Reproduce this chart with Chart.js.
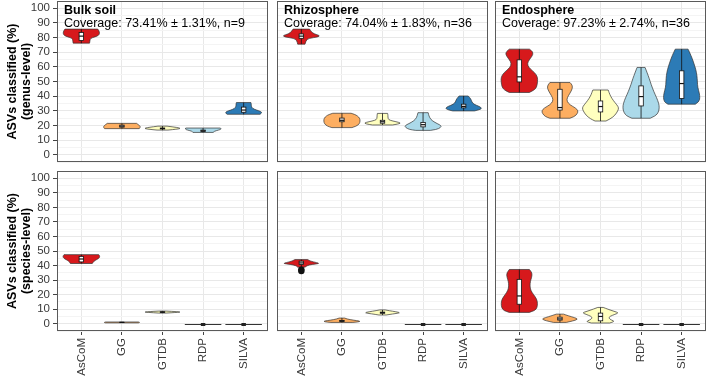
<!DOCTYPE html>
<html>
<head>
<meta charset="utf-8">
<script src="https://cdn.jsdelivr.net/npm/chart.js@4.4.1/dist/chart.umd.min.js"></script>
<style>
  html, body { margin: 0; padding: 0; background: #fff; }
  #wrap { position: relative; width: 708px; height: 380px; overflow: hidden; }
  #wrap canvas { position: absolute; }
</style>
</head>
<body>
<div id="wrap"></div>
<script>
// facets, categories, labels
const categories = ['AsCoM', 'GG', 'GTDB', 'RDP', 'SILVA'];
const panelNames = ['Bulk soil', 'Rhizosphere', 'Endosphere'];
const coverageText = ['Coverage: 73.41% \u00b1 1.31%, n=9', 'Coverage: 74.04% \u00b1 1.83%, n=36', 'Coverage: 97.23% \u00b1 2.74%, n=36'];
const rowTitles = [['ASVs classified (%)', '(genus-level)'], ['ASVs classified (%)', '(species-level)']];
const yTickLabels = [0, 10, 20, 30, 40, 50, 60, 70, 80, 90, 100];
const fills = ['#d7191c', '#fdae61', '#ffffbf', '#abd9e9', '#2c7bb6'];

// boxplot stats: [lower whisker, q1, median, q3, upper whisker]
// violin outlines: [value, relative half-width]
const genusBulkBox = [
  [76.2, 78, 81, 83.5, 85.8],
  [17.8, 18.8, 19.5, 20.2, 21.4],
  [16.8, 17.6, 17.9, 18.2, 19.5],
  [15.2, 15.8, 16.3, 16.8, 18.2],
  [27.6, 29, 30.5, 32.5, 35.6]
];
const genusBulkShape = [
  [[76.2, 0.45], [78, 0.47], [79.5, 0.5], [80.5, 0.75], [81.5, 0.95], [83, 1], [84.5, 0.97], [85.8, 0.9]],
  [[17.8, 0.95], [18.5, 1], [19.5, 1], [20.5, 0.9], [21.4, 0.8]],
  [[16.8, 0.3], [17.5, 0.85], [18, 1], [18.6, 0.8], [19.5, 0.25]],
  [[15.2, 0.55], [16, 0.6], [16.8, 0.85], [17.5, 1], [18.2, 0.95]],
  [[27.6, 0.9], [28.5, 1], [29.5, 0.95], [30.5, 0.7], [31.5, 0.5], [33, 0.42], [34.5, 0.42], [35.6, 0.4]]
];
const genusRhizoBox = [
  [75.5, 79.5, 81, 82.5, 85.8],
  [18.5, 22.5, 23.5, 25, 28.3],
  [20.3, 21.5, 22.5, 23.5, 28.2],
  [16.6, 19, 20.5, 22, 28.7],
  [29.9, 32, 33, 34.5, 40.1]
];
const genusRhizoShape = [
  [[75.5, 0.2], [78, 0.25], [79.5, 0.4], [80.5, 0.95], [81.5, 1], [82.5, 0.7], [84, 0.55], [85.8, 0.45]],
  [[18.5, 0.55], [19.5, 0.8], [21, 0.95], [23, 1], [25, 0.97], [26.5, 0.85], [27.5, 0.7], [28.3, 0.5]],
  [[20.3, 0.55], [21, 0.9], [21.7, 1], [22.5, 0.75], [23.5, 0.4], [24.5, 0.3], [27, 0.3], [28.2, 0.28]],
  [[16.6, 0.4], [17.2, 0.75], [18.5, 0.95], [19.5, 1], [20.5, 0.9], [22, 0.65], [24, 0.42], [26.5, 0.32], [28.7, 0.28]],
  [[29.9, 0.6], [30.8, 0.9], [31.8, 1], [33, 0.85], [34.5, 0.55], [36, 0.45], [38, 0.4], [40.1, 0.25]]
];
const genusEndoBox = [
  [42.5, 49.7, 53.2, 64.8, 72.1],
  [24.9, 30.5, 32.2, 44.7, 49.3],
  [23, 29.2, 32.9, 36.7, 44.2],
  [24.9, 33.3, 39.7, 47, 59.6],
  [34.5, 38.4, 48.6, 57.3, 72.1]
];
const genusEndoShape = [
  [[42.5, 0.55], [44, 0.8], [46, 0.95], [50, 1], [53, 1], [56, 0.85], [58.5, 0.6], [61, 0.45], [63.5, 0.47], [66, 0.62], [68.5, 0.75], [70.5, 0.72], [72.1, 0.55]],
  [[24.9, 0.55], [26, 0.8], [28, 0.95], [30, 1], [32, 0.85], [34, 0.55], [36.5, 0.38], [39, 0.4], [42, 0.55], [45, 0.68], [47.5, 0.68], [49.3, 0.55]],
  [[23, 0.3], [24.5, 0.55], [27, 0.8], [30, 0.95], [32, 1], [34, 0.9], [37, 0.7], [40, 0.55], [42.5, 0.47], [44.2, 0.42]],
  [[24.9, 0.5], [26.5, 0.8], [29, 0.95], [32, 1], [35, 0.97], [39, 0.85], [43, 0.7], [48, 0.55], [52, 0.45], [56, 0.33], [59.6, 0.22]],
  [[34.5, 0.75], [36, 0.95], [39, 1], [42, 0.97], [46, 0.88], [50, 0.86], [54, 0.84], [58, 0.78], [62, 0.68], [66, 0.57], [69.5, 0.45], [72.1, 0.35]]
];
const speciesBulkBox = [
  [41.4, 42.5, 44.5, 46.3, 47.5],
  [0.6, 0.8, 0.9, 1, 1.2],
  [7.3, 7.8, 8, 8.2, 8.7],
  [0, 0, 0, 0, 0],
  [0, 0, 0, 0, 0]
];
const speciesBulkShape = [
  [[41.4, 0.6], [42.5, 0.65], [43.5, 0.75], [44.5, 0.9], [45.5, 1], [46.8, 1], [47.5, 0.95]],
  [[0.6, 0.9], [0.9, 1], [1.2, 0.9]],
  [[7.3, 0.2], [7.8, 0.8], [8, 1], [8.3, 0.8], [8.7, 0.2]],
  [[0, 1]],
  [[0, 1]]
];
const speciesRhizoBox = [
  [38.9, 40.8, 41.8, 43, 44.1],
  [0.9, 1.5, 1.9, 2.3, 3.9],
  [6, 7.2, 7.6, 8, 9.5],
  [0, 0, 0, 0, 0],
  [0, 0, 0, 0, 0]
];
const speciesRhizoShape = [
  [[38.9, 0.2], [40, 0.3], [40.8, 0.6], [41.4, 1], [42, 0.85], [43, 0.5], [44.1, 0.35]],
  [[0.9, 0.6], [1.3, 0.95], [1.8, 1], [2.5, 0.6], [3.2, 0.3], [3.9, 0.15]],
  [[6, 0.2], [6.8, 0.6], [7.5, 1], [8.2, 0.75], [9, 0.35], [9.5, 0.15]],
  [[0, 1]],
  [[0, 1]]
];
const speciesRhizoOutliers = [[36.2, 37.2], [], [], [], []];
const speciesEndoBox = [
  [7.8, 13.4, 19.1, 30.5, 37.3],
  [0.9, 2.5, 3.3, 4.5, 6.6],
  [0.5, 2, 5, 7.3, 11.2],
  [0, 0, 0, 0, 0],
  [0, 0, 0, 0, 0]
];
const speciesEndoShape = [
  [[7.8, 0.55], [9, 0.85], [11, 0.97], [14, 1], [17, 0.95], [20, 0.78], [23, 0.62], [26, 0.58], [29, 0.6], [32, 0.68], [35, 0.7], [37.3, 0.55]],
  [[0.9, 0.35], [2, 0.75], [3.2, 1], [4.2, 0.8], [5.5, 0.45], [6.6, 0.2]],
  [[0.5, 0.5], [1.5, 0.8], [2.5, 0.6], [3.8, 0.45], [5, 0.5], [6.5, 0.8], [7.5, 1], [8.5, 0.75], [10, 0.4], [11.2, 0.15]],
  [[0, 1]],
  [[0, 1]]
];

const FONT = '"Liberation Sans", Arial, sans-serif';
Chart.defaults.font.family = FONT;

// smooth one side of a violin through midpoints
function smoothSide(ctx, pts) {
  for (let k = 1; k < pts.length - 1; k++) {
    const mx = (pts[k][0] + pts[k + 1][0]) / 2;
    const my = (pts[k][1] + pts[k + 1][1]) / 2;
    ctx.quadraticCurveTo(pts[k][0], pts[k][1], mx, my);
  }
  const last = pts[pts.length - 1];
  ctx.lineTo(last[0], last[1]);
}

const violinPlugin = {
  id: 'violins',
  afterDatasetsDraw(chart) {
    const { ctx, chartArea: a, scales: { x, y } } = chart;
    const ds = chart.data.datasets[0];
    const unit = x.getPixelForValue(1) - x.getPixelForValue(0);
    const half = unit * 0.45;
    const bw = unit * 0.055;
    ctx.save();
    ctx.beginPath();
    ctx.rect(a.left, a.top, a.right - a.left, a.bottom - a.top);
    ctx.clip();
    ds.shapes.forEach((shape, i) => {
      const cx = x.getPixelForValue(i + 1);
      const b = ds.boxes[i];
      if (b[0] === b[4]) {
        // all values equal: flat violin
        const py = Math.round(y.getPixelForValue(b[0])) + 0.5;
        ctx.strokeStyle = '#333';
        ctx.lineWidth = 1;
        ctx.beginPath();
        ctx.moveTo(cx - half, py);
        ctx.lineTo(cx + half, py);
        ctx.stroke();
        ctx.fillStyle = '#222';
        ctx.fillRect(cx - bw, py - 1.5, bw * 2, 3);
        return;
      }
      const right = shape.map(([v, w]) => [cx + w * half, y.getPixelForValue(v)]);
      const left = shape.slice().reverse().map(([v, w]) => [cx - w * half, y.getPixelForValue(v)]);
      ctx.beginPath();
      ctx.moveTo(right[0][0], right[0][1]);
      smoothSide(ctx, right);
      ctx.lineTo(left[0][0], left[0][1]);
      smoothSide(ctx, left);
      ctx.closePath();
      ctx.fillStyle = ds.fills[i];
      ctx.fill();
      ctx.strokeStyle = '#333';
      ctx.lineWidth = 0.7;
      ctx.stroke();

      // boxplot
      const pMin = y.getPixelForValue(b[0]);
      const pQ1 = y.getPixelForValue(b[1]);
      const pMed = y.getPixelForValue(b[2]);
      const pQ3 = y.getPixelForValue(b[3]);
      const pMax = y.getPixelForValue(b[4]);
      ctx.strokeStyle = '#111';
      ctx.lineWidth = 0.8;
      ctx.beginPath();
      ctx.moveTo(cx, pMin); ctx.lineTo(cx, pQ1);
      ctx.moveTo(cx, pQ3); ctx.lineTo(cx, pMax);
      ctx.stroke();
      ctx.fillStyle = '#fff';
      ctx.fillRect(cx - bw, pQ3, bw * 2, pQ1 - pQ3);
      ctx.strokeRect(cx - bw, pQ3, bw * 2, pQ1 - pQ3);
      ctx.lineWidth = 1.2;
      ctx.beginPath();
      ctx.moveTo(cx - bw, pMed); ctx.lineTo(cx + bw, pMed);
      ctx.stroke();

      (ds.outliers[i] || []).forEach(v => {
        ctx.fillStyle = '#111';
        ctx.beginPath();
        ctx.arc(cx, y.getPixelForValue(v), 3.2, 0, Math.PI * 2);
        ctx.fill();
      });
    });
    ctx.restore();
  },
  afterDraw(chart) {
    const { ctx, chartArea: a } = chart;
    const o = chart.options.plugins.violins;
    ctx.save();
    ctx.strokeStyle = '#5a5a5a';
    ctx.lineWidth = 1;
    ctx.strokeRect(Math.round(a.left) + 0.5, Math.round(a.top) + 0.5, Math.round(a.right - a.left) - 1, Math.round(a.bottom - a.top) - 1);
    if (o.title) {
      ctx.fillStyle = '#000';
      ctx.textBaseline = 'alphabetic';
      ctx.textAlign = 'left';
      ctx.font = 'bold 12.5px ' + FONT;
      ctx.fillText(o.title, a.left + 7, a.top + 12.5);
      ctx.font = '12.5px ' + FONT;
      ctx.fillText(o.subtitle, a.left + 7, a.top + 25.5);
    }
    ctx.restore();
  }
};

const wrap = document.getElementById('wrap');
const colLeft = [57, 277, 495];

function makePanel(row, col, boxes, shapes, outliers) {
  const canvas = document.createElement('canvas');
  const left = col === 0 ? 0 : colLeft[col] - 1;
  const width = col === 0 ? 270 : 213;
  const top = row === 0 ? 0 : 170;
  const height = row === 0 ? 164 : 210;
  canvas.width = width;
  canvas.height = height;
  canvas.style.left = left + 'px';
  canvas.style.top = top + 'px';
  canvas.style.width = width + 'px';
  canvas.style.height = height + 'px';
  wrap.appendChild(canvas);

  const zeroPad = s => { s.paddingTop = 0; s.paddingBottom = 0; s.paddingLeft = 0; s.paddingRight = 0; };

  new Chart(canvas, {
    type: 'scatter',
    data: {
      datasets: [{
        data: categories.map((c, i) => ({ x: i + 1, y: boxes[i][2] })),
        pointRadius: 0,
        boxes: boxes,
        shapes: shapes,
        outliers: outliers,
        fills: fills
      }]
    },
    options: {
      responsive: false,
      animation: false,
      events: [],
      layout: {
        padding: {
          left: col === 0 ? 0 : 1,
          right: col === 0 ? 2 : 1,
          top: 1,
          bottom: row === 0 ? 2 : 0
        }
      },
      plugins: {
        legend: { display: false },
        tooltip: { enabled: false },
        violins: row === 0 ? { title: panelNames[col], subtitle: coverageText[col] } : {}
      },
      scales: {
        x: {
          type: 'linear',
          min: 0.4,
          max: 5.6,
          afterBuildTicks: s => { s.ticks = categories.map((c, i) => ({ value: i + 1 })); },
          afterFit: s => { s.height = row === 1 ? 49 : 0; zeroPad(s); },
          border: { display: false },
          grid: {
            color: '#e8e8e8',
            drawTicks: row === 1,
            tickLength: 4,
            tickColor: '#444'
          },
          ticks: {
            display: row === 1,
            autoSkip: false,
            minRotation: 90,
            maxRotation: 90,
            padding: 3,
            color: '#3a3a3a',
            font: { size: 11.5 },
            callback: v => categories[v - 1]
          }
        },
        y: {
          type: 'linear',
          min: -5,
          max: 105,
          afterBuildTicks: s => {
            const t = [];
            for (let v = -5; v <= 105; v += 5) t.push({ value: v });
            s.ticks = t;
          },
          afterFit: s => { s.width = col === 0 ? 57 : 0; zeroPad(s); },
          border: { display: false },
          grid: {
            color: c => (c.tick && c.tick.value % 10 === 0) ? '#e8e8e8' : '#f4f4f4',
            drawTicks: col === 0,
            tickLength: 4,
            tickColor: c => (c.tick && yTickLabels.includes(c.tick.value)) ? '#444' : 'rgba(0,0,0,0)'
          },
          ticks: {
            display: col === 0,
            autoSkip: false,
            padding: 3,
            color: '#3a3a3a',
            font: { size: 11.5 },
            callback: v => yTickLabels.includes(v) ? String(v) : ''
          },
          title: {
            display: col === 0,
            text: rowTitles[row],
            color: '#000',
            font: { size: 12.5, weight: 'bold', lineHeight: 1.08 },
            padding: { top: 6, bottom: 0 }
          }
        }
      }
    },
    plugins: [violinPlugin]
  });
}

makePanel(0, 0, genusBulkBox, genusBulkShape, []);
makePanel(0, 1, genusRhizoBox, genusRhizoShape, []);
makePanel(0, 2, genusEndoBox, genusEndoShape, []);
makePanel(1, 0, speciesBulkBox, speciesBulkShape, []);
makePanel(1, 1, speciesRhizoBox, speciesRhizoShape, speciesRhizoOutliers);
makePanel(1, 2, speciesEndoBox, speciesEndoShape, []);
</script>
</body>
</html>
